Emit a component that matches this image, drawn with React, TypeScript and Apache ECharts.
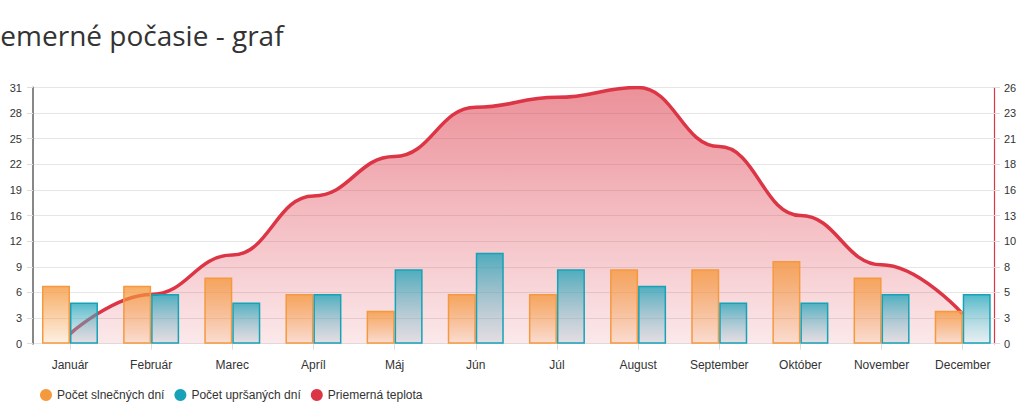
import React, { useEffect, useRef } from "react";
import * as echarts from "echarts";

const months = ["Január", "Február", "Marec", "Apríl", "Máj", "Jún", "Júl", "August", "September", "Október", "November", "December"];
const sunnyDays = [7, 7, 8, 6, 4, 6, 6, 9, 9, 10, 8, 4];
const rainyDays = [5, 6, 5, 6, 9, 11, 9, 7, 5, 5, 6, 6];
const avgTemp = [1, 5, 9, 15, 19, 24, 25, 26, 20, 13, 8, 3];
const seriesNames = ["Počet slnečných dní", "Počet upršaných dní", "Priemerná teplota"];
const titleText = "Priemerné počasie - graf";

const ORANGE = "#f5993f";
const BLUE = "#17a2b8";
const RED = "#dc3545";
const FONT = "'Liberation Sans', Arial, sans-serif";

export default function App() {
  const ref = useRef<HTMLDivElement>(null);
  useEffect(() => {
    if (!ref.current) return;
    const chart = echarts.init(ref.current, null, { renderer: "svg" });
    const grad = (c0: string, c1: string) =>
      new echarts.graphic.LinearGradient(0, 0, 0, 1, [
        { offset: 0, color: c0 },
        { offset: 1, color: c1 },
      ]);
    const top = 87.5;
    const bottom = 420 - 343.7;
    chart.setOption({
      animation: false,
      title: {
        text: titleText,
        left: -40,
        top: 16,
        textStyle: { fontFamily: "'Open Sans', sans-serif", fontSize: 28, fontWeight: "normal", color: "#333" },
      },
      legend: {
        left: 35,
        top: 384,
        icon: "circle",
        itemWidth: 12,
        itemHeight: 12,
        itemGap: 10,
        textStyle: { fontFamily: FONT, fontSize: 12, color: "#333" },
        data: [
          { name: seriesNames[0], itemStyle: { color: ORANGE, borderWidth: 0 } },
          { name: seriesNames[1], itemStyle: { color: BLUE, borderWidth: 0 } },
          { name: seriesNames[2], itemStyle: { color: RED, borderWidth: 0 } },
        ],
      },
      grid: [
        { left: 33, right: 30, top, bottom, containLabel: false },
        { left: 29.4, right: 20.7, top, bottom, containLabel: false },
      ],
      xAxis: [
        { type: "category", gridIndex: 0, data: months, show: false },
        {
          type: "category",
          gridIndex: 1,
          data: months,
          boundaryGap: true,
          axisLine: { show: false },
          axisTick: { show: true, alignWithLabel: true, length: 6, lineStyle: { color: "#ddd" } },
          axisLabel: { margin: 15, fontFamily: FONT, fontSize: 12, color: "#333" },
        },
      ],
      yAxis: [
        {
          type: "value",
          gridIndex: 0,
          position: "left",
          min: 0,
          max: 31,
          interval: 3.1,
          axisLine: { show: true, lineStyle: { color: "#888", width: 2 } },
          axisTick: { show: true, length: 6, lineStyle: { color: "#ddd" } },
          axisLabel: {
            margin: 11,
            fontFamily: FONT,
            fontSize: 11,
            color: "#333",
            formatter: (v: number) => String(Math.round(v)),
          },
          splitLine: { show: true, lineStyle: { color: "#e6e6e6", width: 1 } },
        },
        {
          type: "value",
          gridIndex: 0,
          position: "right",
          min: 0,
          max: 26,
          interval: 2.6,
          axisLine: { show: true, lineStyle: { color: RED, width: 1.2 } },
          axisTick: { show: true, length: 6, lineStyle: { color: "#ddd" } },
          axisLabel: {
            margin: 10,
            fontFamily: FONT,
            fontSize: 11,
            color: "#333",
            formatter: (v: number) => String(Math.round(v)),
          },
          splitLine: { show: false },
        },
        { type: "value", gridIndex: 1, min: 0, max: 31, show: false, splitLine: { show: false } },
        { type: "value", gridIndex: 1, min: 0, max: 26, show: false, splitLine: { show: false } },
      ],
      series: [
        {
          name: seriesNames[2],
          type: "line",
          xAxisIndex: 1,
          yAxisIndex: 3,
          data: avgTemp,
          smooth: 0.45,
          smoothMonotone: "x",
          symbol: "none",
          z: 1,
          lineStyle: { color: RED, width: 3.5 },
          itemStyle: { color: RED },
          areaStyle: { color: grad("rgba(220,53,69,0.78)", "rgba(220,53,69,0.16)") },
        },
        {
          name: seriesNames[0],
          type: "bar",
          xAxisIndex: 1,
          yAxisIndex: 2,
          data: sunnyDays,
          barGap: "0%",
          barCategoryGap: "31%",
          z: 3,
          itemStyle: {
            color: grad("rgba(245,153,63,0.8)", "rgba(245,153,63,0.15)"),
            borderColor: ORANGE,
            borderWidth: 1.5,
          },
        },
        {
          name: seriesNames[1],
          type: "bar",
          xAxisIndex: 1,
          yAxisIndex: 2,
          data: rainyDays,
          barGap: "0%",
          barCategoryGap: "31%",
          z: 3,
          itemStyle: {
            color: grad("rgba(23,162,184,0.75)", "rgba(150,190,205,0.25)"),
            borderColor: BLUE,
            borderWidth: 1.5,
          },
        },
      ],
    });
    return () => chart.dispose();
  }, []);
  return <div ref={ref} style={{ width: 1024, height: 420, position: "absolute", left: 0, top: 0 }} />;
}
